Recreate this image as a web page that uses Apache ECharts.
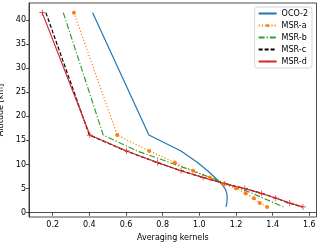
<!DOCTYPE html>
<html><head><meta charset="utf-8">
<script src="https://cdn.jsdelivr.net/npm/echarts@6/dist/echarts.min.js"></script>
<style>html,body{margin:0;padding:0;background:#fff}#c{width:320px;height:244px}</style>
</head><body><div id="c"></div>
<script>
const altitudes = [41.5, 16.1, 12.8, 10.4, 8.7, 7.3, 6.0, 5.0, 4.0, 3.0, 2.0, 1.2];
const oco2 = [0.418, 0.725, 0.90, 0.99, 1.045, 1.085, 1.12, 1.14, 1.15, 1.152, 1.15, 1.145];
const msrA = [0.316, 0.552, 0.727, 0.866, 0.966, 1.057, 1.13, 1.20, 1.253, 1.297, 1.33, 1.37];
const msrB = [0.258, 0.476, 0.66, 0.84, 0.96, 1.06, 1.15, 1.22, 1.29, 1.35, 1.41, 1.46];
const msrC = [0.163, 0.40, 0.60, 0.77, 0.90, 1.02, 1.14, 1.25, 1.34, 1.42, 1.49, 1.56];
const msrD = [0.143, 0.403, 0.603, 0.772, 0.90, 1.02, 1.139, 1.248, 1.339, 1.417, 1.493, 1.565];
const xTicks = [0.2, 0.4, 0.6, 0.8, 1.0, 1.2, 1.4, 1.6];
const yTicks = [0, 5, 10, 15, 20, 25, 30, 35, 40];
const seriesNames = ['OCO-2', 'MSR-a', 'MSR-b', 'MSR-c', 'MSR-d'];

const pair = xs => xs.map((x, i) => [x, altitudes[i]]);
const font = 'DejaVu Sans';
const plus = 'path://M4.4,0H5.6V4.4H10V5.6H5.6V10H4.4V5.6H0V4.4H4.4Z';

const chart = echarts.init(document.getElementById('c'), null, {renderer: 'canvas'});
chart.setOption({
  animation: false,
  grid: {left: 29, right: 3.5, top: 3, bottom: 27, containLabel: false, outerBoundsMode: 'none',
    show: true, borderColor: '#222', borderWidth: 0.8, backgroundColor: 'transparent'},
  legend: {
    orient: 'vertical', right: 8, top: 7,
    itemWidth: 18, itemHeight: 4, itemGap: 3,
    backgroundColor: '#fff', borderColor: '#ccc', borderWidth: 0.8, borderRadius: 3,
    padding: [2, 4, 2, 3],
    textStyle: {fontFamily: font, fontSize: 8, color: '#000', lineHeight: 9},
    data: [
      {name: seriesNames[0], itemStyle: {opacity: 0}},
      {name: seriesNames[1]},
      {name: seriesNames[2], itemStyle: {opacity: 0}},
      {name: seriesNames[3], itemStyle: {opacity: 0}},
      {name: seriesNames[4]}
    ]
  },
  xAxis: {
    type: 'value', min: 0.071, max: 1.639,
    name: 'Averaging kernels', nameLocation: 'middle', nameGap: 14,
    nameTextStyle: {fontFamily: font, fontSize: 8, color: '#000'},
    axisLine: {show: true, lineStyle: {color: '#222', width: 0.8}},
    axisTick: {show: true, inside: false, length: 3, customValues: xTicks, lineStyle: {color: '#222', width: 0.8}},
    axisLabel: {customValues: xTicks, fontFamily: font, fontSize: 8, color: '#000', margin: 4,
      formatter: v => v.toFixed(1)},
    splitLine: {show: false}
  },
  yAxis: {
    type: 'value', min: -0.9, max: 43.5,
    name: 'Altitude [km]', nameLocation: 'middle', nameGap: 20,
    nameTextStyle: {fontFamily: font, fontSize: 8, color: '#000'},
    axisLine: {show: true, lineStyle: {color: '#222', width: 0.8}},
    axisTick: {show: true, inside: false, length: 3, customValues: yTicks, lineStyle: {color: '#222', width: 0.8}},
    axisLabel: {customValues: yTicks, fontFamily: font, fontSize: 8, color: '#000', margin: 3},
    splitLine: {show: false}
  },
  series: [
    {name: seriesNames[0], type: 'line', data: pair(oco2), symbol: 'none',
     lineStyle: {color: '#1f77b4', width: 1.2}, itemStyle: {color: '#1f77b4'}},
    {name: seriesNames[1], type: 'line', data: pair(msrA), symbol: 'circle', symbolSize: 4,
     lineStyle: {color: '#ff7f0e', width: 1.2, type: [1.2, 2]}, itemStyle: {color: '#ff7f0e'}},
    {name: seriesNames[2], type: 'line', data: pair(msrB), symbol: 'none',
     lineStyle: {color: '#2ca02c', width: 1.2, type: [6, 2, 1.2, 2]}, itemStyle: {color: '#2ca02c'}},
    {name: seriesNames[3], type: 'line', data: pair(msrC), symbol: 'none',
     lineStyle: {color: '#000', width: 1.2, type: [4, 2]}, itemStyle: {color: '#000'}},
    {name: seriesNames[4], type: 'line', data: pair(msrD), symbol: plus, symbolSize: 6,
     lineStyle: {color: '#d62728', width: 1.2}, itemStyle: {color: '#d62728'}}
  ]
});
</script></body></html>
